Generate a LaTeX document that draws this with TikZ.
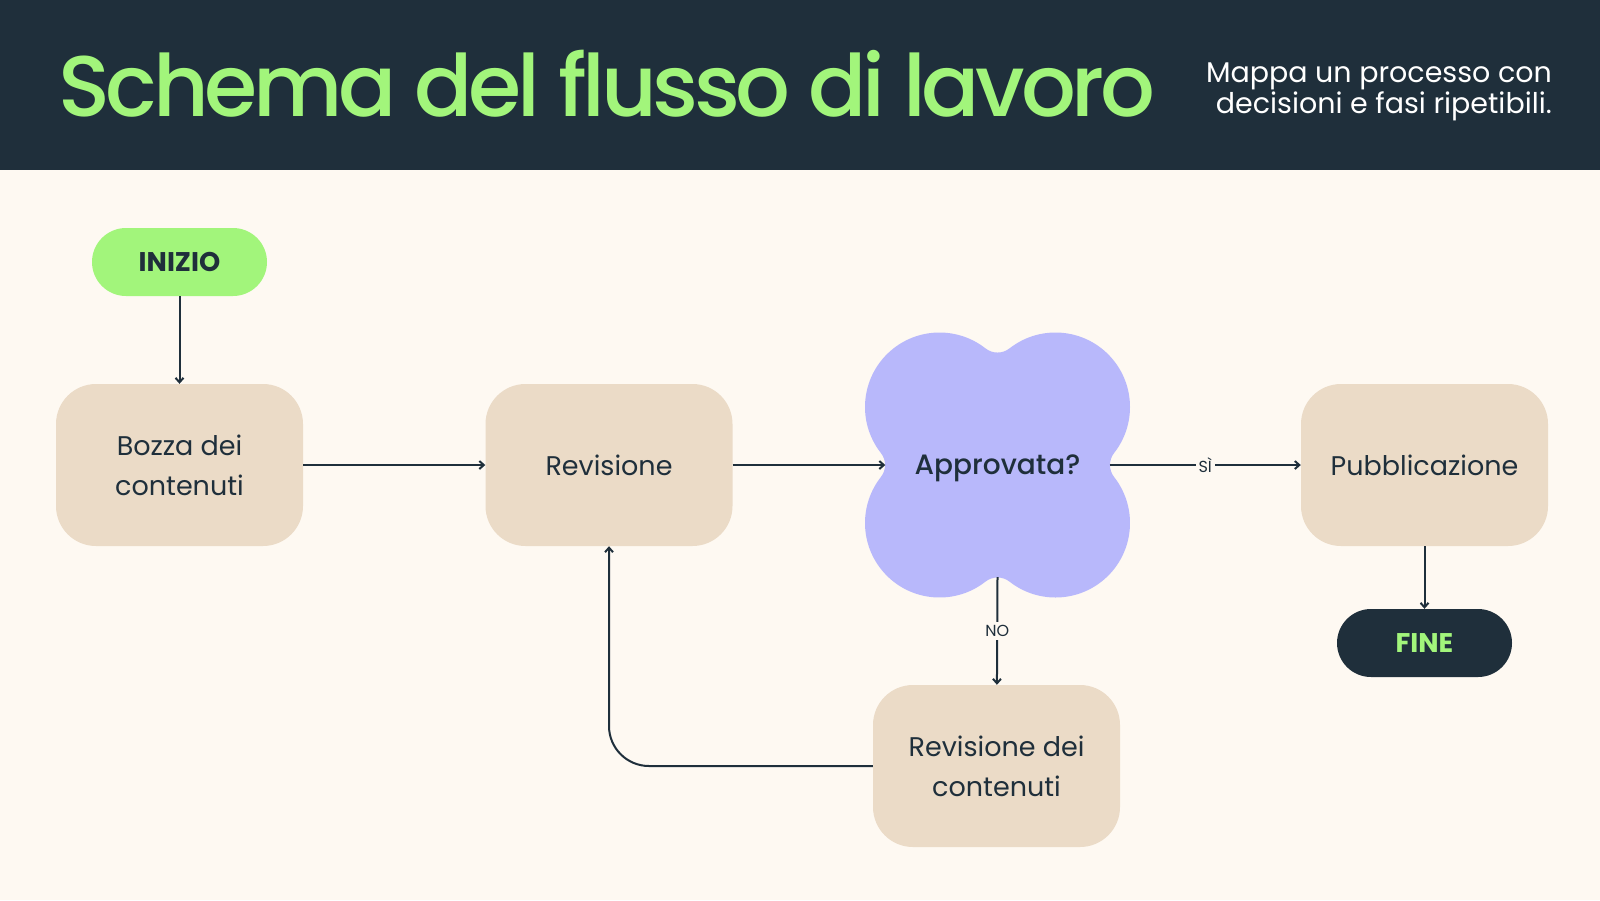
\documentclass[tikz,border=0pt]{standalone}
\usepackage{fontspec}
\setmainfont{Poppins}
\newfontfamily\medfont{Poppins Medium}
\newfontfamily\titlefont{Poppins Medium}[LetterSpace=-5]
\usetikzlibrary{arrows.meta}

\definecolor{ink}{HTML}{1F2F3B}
\definecolor{leaf}{HTML}{A2F57B}
\definecolor{paper}{HTML}{FEF9F2}
\definecolor{sand}{HTML}{EBDBC7}
\definecolor{lilac}{HTML}{B8B8FB}

\begin{document}
\begin{tikzpicture}[x=1pt,y=1pt,
  flow/.style={draw=ink,line width=2pt,-{Straight Barb[length=4.5pt,width=8pt]}},
  stepbox/.style={fill=sand,rounded corners=40pt,minimum width=247pt,minimum height=162pt,
    align=center,text=ink,font=\fontsize{27}{40}\selectfont},
  pill/.style={rounded corners=34pt,minimum width=175pt,minimum height=68pt,
    font=\bfseries\fontsize{27}{32}\selectfont},
  tag/.style={fill=paper,inner sep=3pt,text=ink,font=\fontsize{16}{16}\selectfont}]

\fill[paper] (0,0) rectangle (1600,-900);
\fill[ink] (0,0) rectangle (1600,-170);

\node[anchor=base west,inner sep=0,text=leaf,font=\titlefont\fontsize{86}{90}\selectfont] (title) at (58,-116) {Schema del flusso di lavoro};
\node[anchor=north east,inner sep=0,align=right,text=white,font=\fontsize{28.5}{29}\selectfont] (sub) at (1552,-63) {Mappa un processo con\\decisioni e fasi ripetibili.};

% the decision shape
\fill[lilac] (997.5,-465) ++(12.03,116.62)
  arc[start angle=128.1,end angle=-38.1,radius=74.5]
  arc[start angle=141.9,end angle=218.1,radius=19.5]
  arc[start angle=38.1,end angle=-128.1,radius=74.5]
  arc[start angle=51.9,end angle=128.1,radius=19.5]
  arc[start angle=-51.9,end angle=-218.1,radius=74.5]
  arc[start angle=-38.1,end angle=38.1,radius=19.5]
  arc[start angle=218.1,end angle=51.9,radius=74.5]
  arc[start angle=-128.1,end angle=-51.9,radius=19.5] -- cycle;

\node[pill,fill=leaf,text=ink] (start) at (179.5,-262) {INIZIO};
\node[stepbox] (draft) at (179.5,-465) {Bozza dei\\contenuti};
\node[stepbox] (review) at (609,-465) {Revisione};
\node[circle,minimum size=224pt,inner sep=0,text depth=0pt,text=ink,font=\medfont\fontsize{28}{30}\selectfont] (approv) at (997.5,-465) {Approvata?};
\node[stepbox] (publish) at (1424.5,-465) {Pubblicazione};
\node[pill,fill=ink,text=leaf] (stop) at (1424.5,-643) {FINE};
\node[stepbox] (rework) at (996.5,-766) {Revisione dei\\contenuti};

\draw[flow] (start) -- (draft);
\draw[flow] (draft) -- (review);
\draw[flow] (review) -- (approv);
\draw[flow] (approv) -- node[tag] {SÌ} (publish);
\draw[flow] (approv.south) -- node[tag] {NO} (rework);
\draw[flow] (publish) -- (stop);
\draw[flow,rounded corners=40pt] (rework.west) -| (review.south);

\end{tikzpicture}
\end{document}
